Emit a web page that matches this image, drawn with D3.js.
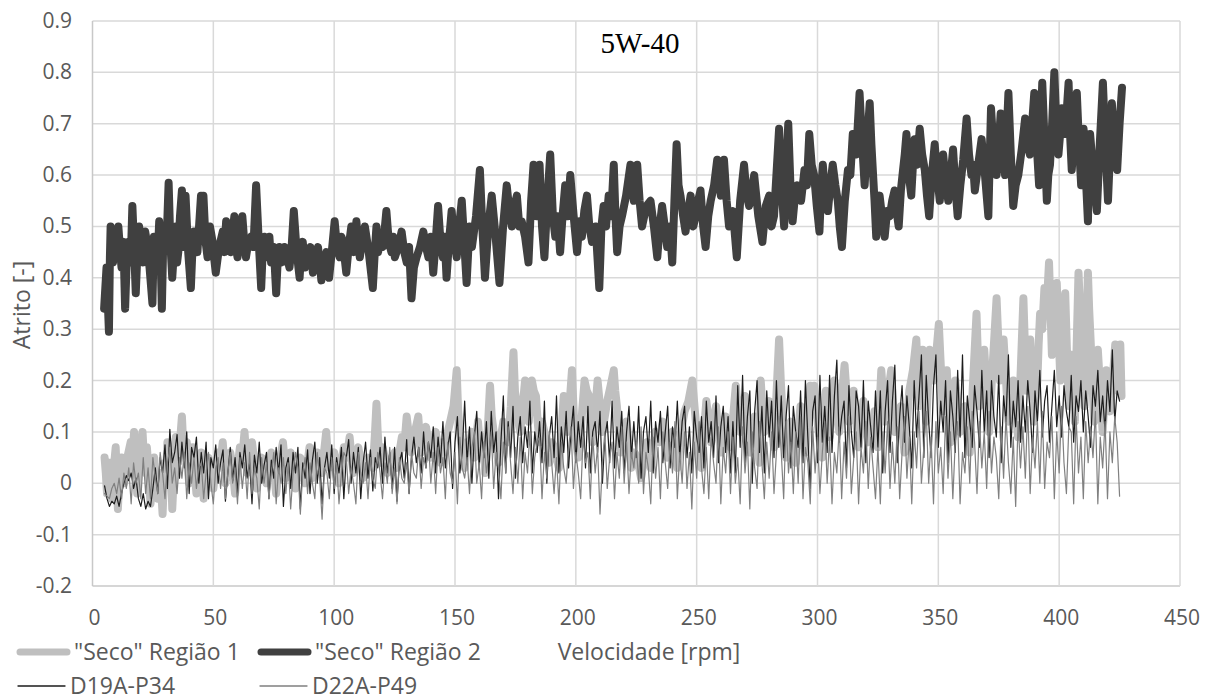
<!DOCTYPE html>
<html>
<head>
<meta charset="utf-8">
<script src="https://cdn.jsdelivr.net/npm/d3@7"></script>
<style>
  body { margin: 0; background: #fff; }
  svg { display: block; }
  text { font-family: "Open Sans", sans-serif; fill: #595959; }
</style>
</head>
<body>
<script>
// chart text
var title = "5W-40";
var xTitle = "Velocidade [rpm]";
var yTitle = "Atrito [-]";
var seriesNames = ['"Seco" Região 1', '"Seco" Região 2', "D19A-P34", "D22A-P49"];
var xTicks = [0, 50, 100, 150, 200, 250, 300, 350, 400, 450];
var yTicks = [-0.2, -0.1, 0, 0.1, 0.2, 0.3, 0.4, 0.5, 0.6, 0.7, 0.8, 0.9];

// "Seco" Região 1 : [rpm, atrito]
var regiao1 = [[5,0.05],[5.5,0.02],[6,-0.02],[6.5,0.03],[7,0.04],[7.5,0.0],[8,-0.03],[8.8,0.03],[9.6,0.07],[10,0.02],
  [10.5,-0.05],[11.2,0.02],[12,0.05],[12.5,0.03],[13,0.0],[14.4,0.05],[15.8,0.08],[16.2,0.05],[16.5,0.02],[16.8,0.07],
  [17.2,0.1],[17.8,0.04],[18.5,-0.02],[19,0.03],[19.5,0.06],[20.1,0.08],[20.7,0.1],[21.3,0.05],[22,0.02],[22.5,0.07],
  [23,0.04],[23.5,0.0],[24,-0.04],[24.8,0.02],[25.5,0.05],[26.2,0.01],[27,-0.03],[28,0.02],[29,-0.06],[29.5,0.0],
  [30,0.04],[30.5,0.02],[31,0.08],[31.5,0.04],[32,0.0],[32.5,0.03],[33,-0.05],[33.8,0.03],[34.5,0.09],[35,0.06],
  [35.5,0.04],[36.2,0.08],[37,0.13],[37.5,0.08],[38,0.05],[38.5,0.07],[39,0.08],[39.5,0.03],[40,0.0],[40.8,0.04],
  [41.5,0.07],[42.2,0.03],[43,-0.02],[44,0.03],[45,0.06],[45.5,0.02],[46,-0.03],[47,0.02],[48,0.05],[49,0.03],
  [50,-0.01],[51,0.03],[52,0.06],[53,0.04],[53.9,0.08],[54.5,0.04],[55,0.0],[56,0.04],[57,0.06],[58,0.03],
  [59,-0.02],[60,0.03],[61,0.07],[62,0.05],[62.9,0.1],[63.5,0.06],[64,0.02],[65,0.05],[66,0.08],[67,0.04],
  [68,-0.01],[69,0.03],[70,0.05],[71,0.02],[72,0.0],[73,0.04],[74,0.06],[75,0.03],[76,-0.02],[77.4,0.04],
  [78.8,0.08],[79.4,0.05],[80,0.01],[81,0.04],[82,0.06],[83,0.03],[84,-0.01],[85,0.03],[86,0.05],[87,0.02],
  [88,0.0],[89,0.04],[89.8,0.07],[90.4,0.04],[91,0.01],[92,0.04],[93,0.06],[94,0.04],[95,0.02],[95.8,0.06],
  [96.7,0.1],[97.3,0.06],[98,0.03],[99,0.05],[100,0.06],[101,0.03],[102,0.0],[103,0.04],[104,0.07],[105.2,0.05],
  [106.4,0.09],[107.2,0.05],[108,0.02],[109,0.05],[110,0.07],[111,0.04],[112,0.01],[113,0.04],[114,0.05],[115,0.04],
  [116,0.03],[116.8,0.09],[117.5,0.155],[118,0.1],[118.5,0.06],[119.2,0.04],[120,0.07],[121,0.05],[122,0.02],[123,0.04],
  [124,0.05],[125,0.06],[126,0.03],[127,0.06],[128,0.09],[129,0.07],[130,0.13],[131,0.09],[132,0.06],[133.4,0.1],
  [134.8,0.13],[135.4,0.09],[136,0.06],[137,0.09],[138,0.11],[139,0.08],[140,0.05],[141,0.08],[142,0.1],[143,0.07],
  [144,0.04],[145,0.08],[146,0.06],[147,0.1],[148,0.12],[149.4,0.15],[150.7,0.22],[151.3,0.14],[152,0.1],[153,0.06],
  [154,0.03],[155,0.08],[156,0.07],[157,0.1],[158,0.05],[158.8,0.09],[159.5,0.12],[160.2,0.08],[161,0.06],[161.8,0.09],
  [162.5,0.02],[163.5,0.1],[164.5,0.19],[165.2,0.13],[166,0.1],[167,0.07],[168,0.04],[169,0.09],[170,0.12],[171,0.1],
  [172,0.08],[173.1,0.15],[174.2,0.255],[174.8,0.18],[175.5,0.15],[176.2,0.12],[177,0.1],[178,0.15],[179,0.2],[179.8,0.16],
  [180.5,0.12],[181.2,0.16],[181.8,0.2],[182.6,0.18],[183.5,0.17],[184.2,0.12],[185,0.08],[186,0.12],[187,0.1],[188,0.07],
  [189,0.04],[190,0.08],[191,0.07],[192,0.05],[193,0.03],[194,0.1],[195,0.17],[195.8,0.13],[196.5,0.1],[197.5,0.16],
  [198.4,0.22],[199,0.15],[199.5,0.1],[200.2,0.08],[201,0.05],[202.3,0.12],[203.6,0.2],[204.5,0.18],[205.5,0.17],[206.2,0.12],
  [207,0.08],[208,0.14],[209,0.2],[210,0.15],[211,0.1],[212,0.13],[213,0.16],[214.4,0.19],[215.7,0.22],[216.3,0.18],
  [217,0.15],[217.8,0.1],[218.5,0.06],[219.8,0.09],[221,0.12],[222,0.07],[223,0.03],[224.2,0.06],[225.5,0.05],[226.2,0.03],
  [227,0.01],[228.3,0.05],[229.5,0.08],[230.2,0.05],[231,0.03],[232,0.07],[233,0.1],[234.5,0.08],[236,0.12],[237,0.08],
  [238,0.05],[239,0.08],[240,0.1],[241,0.06],[242,0.03],[243.5,0.1],[245,0.14],[246.6,0.16],[248.2,0.2],[249.1,0.15],
  [250,0.1],[251,0.06],[252,0.03],[253,0.1],[254,0.16],[255,0.12],[256,0.08],[257,0.12],[258,0.15],[259,0.1],
  [260,0.06],[261,0.1],[262,0.13],[263,0.1],[264,0.07],[265.1,0.13],[266.2,0.19],[267.1,0.14],[268,0.1],[269,0.14],
  [270,0.17],[271,0.11],[272,0.06],[273,0.1],[274,0.13],[275,0.08],[276,0.04],[276.5,0.2],[277.2,0.15],[278,0.1],
  [279,0.13],[280,0.16],[281,0.11],[282,0.07],[283,0.17],[284.1,0.28],[284.8,0.2],[285.5,0.14],[286.2,0.09],[287,0.05],
  [288,0.09],[289,0.12],[290,0.08],[291,0.04],[292,0.1],[293,0.15],[294,0.1],[295,0.06],[296,0.13],[297,0.19],
  [297.8,0.16],[298.7,0.19],[299.3,0.15],[300,0.12],[301,0.08],[302,0.05],[302.8,0.12],[303.5,0.18],[304.2,0.13],[305,0.09],
  [306,0.15],[307,0.2],[308,0.15],[309,0.1],[310.1,0.17],[311.2,0.23],[312.1,0.17],[313,0.12],[314,0.15],[315,0.18],
  [316,0.12],[317,0.07],[318,0.12],[319,0.16],[320,0.12],[321,0.08],[322.3,0.11],[323.6,0.14],[324.3,0.1],[325,0.07],
  [325.7,0.15],[326.4,0.22],[327.2,0.17],[328,0.12],[329.3,0.18],[330.5,0.22],[331.2,0.16],[332,0.1],[333.3,0.13],[334.5,0.15],
  [335.2,0.1],[336,0.06],[337,0.12],[338,0.18],[339.5,0.22],[340.9,0.28],[341.5,0.21],[342,0.15],[342.8,0.2],[343.5,0.26],
  [344.2,0.19],[345,0.12],[345.7,0.19],[346.4,0.26],[347.2,0.23],[348,0.2],[349.1,0.25],[350.2,0.31],[351.1,0.22],[352,0.14],
  [352.8,0.18],[353.5,0.22],[354.2,0.15],[355,0.08],[356,0.14],[357,0.2],[358,0.15],[359,0.1],[360,0.13],[361,0.15],
  [362,0.1],[363,0.06],[364.4,0.2],[365.8,0.33],[366.4,0.24],[367,0.15],[368,0.2],[369,0.26],[370,0.18],[371,0.1],
  [372.5,0.23],[374.1,0.36],[374.8,0.28],[375.5,0.2],[376.2,0.24],[377,0.28],[378,0.2],[379,0.12],[380,0.16],[381,0.2],
  [382,0.14],[383,0.09],[384.1,0.22],[385.2,0.36],[385.8,0.27],[386.5,0.18],[387.2,0.23],[388,0.28],[388.8,0.2],[389.5,0.12],
  [390.2,0.16],[391,0.2],[391.5,0.27],[392.1,0.33],[393,0.3],[393.9,0.38],[394.8,0.34],[395.8,0.43],[396.4,0.34],[397,0.25],
  [398,0.32],[399,0.39],[399.7,0.3],[400.5,0.2],[401.5,0.28],[402.5,0.37],[403.2,0.26],[404,0.15],[404.5,0.2],[405,0.25],
  [405.7,0.18],[406.5,0.12],[407.2,0.26],[408,0.41],[408.7,0.33],[409.5,0.25],[410,0.2],[410.5,0.15],[411.2,0.28],[411.9,0.41],
  [412.4,0.34],[413,0.28],[413.7,0.2],[414.5,0.12],[415.2,0.19],[416,0.26],[417,0.18],[418,0.1],[418.7,0.16],[419.5,0.22],
  [420.2,0.18],[421,0.14],[422.1,0.2],[423.2,0.27],[423.8,0.22],[424.5,0.18],[424.9,0.22],[425.3,0.27],[425.8,0.17]];

// "Seco" Região 2 : [rpm, atrito]
var regiao2 = [[4.8,0.34],[5.8,0.42],[6.8,0.295],[7.2,0.44],[7.5,0.5],[8,0.46],[8.5,0.43],[9,0.49],[9.5,0.48],[10.1,0.44],
  [10.7,0.5],[11.3,0.46],[12,0.42],[12.8,0.47],[13.5,0.34],[14.2,0.44],[15,0.47],[15.8,0.43],[16.5,0.54],[17.2,0.46],
  [17.9,0.37],[18.6,0.45],[19.3,0.5],[20.2,0.45],[21,0.43],[21.8,0.49],[22.5,0.47],[23.6,0.42],[24.8,0.35],[25.4,0.48],
  [26,0.45],[26.8,0.42],[27.6,0.51],[28.2,0.44],[28.7,0.34],[29.4,0.5],[30,0.46],[30.8,0.49],[31.5,0.585],[32.2,0.47],
  [33,0.4],[33.8,0.46],[34.5,0.5],[35,0.43],[35.5,0.45],[36.2,0.52],[37,0.57],[37.8,0.46],[38.5,0.56],[39.6,0.45],
  [40.7,0.38],[41.4,0.46],[42,0.49],[43.4,0.45],[44.9,0.56],[45.4,0.48],[45.9,0.56],[46.8,0.47],[47.6,0.44],[48.6,0.5],
  [49.7,0.47],[50.3,0.44],[51,0.41],[52.4,0.46],[53.9,0.49],[54.6,0.45],[55.3,0.51],[56.3,0.47],[57.3,0.45],[58,0.49],
  [58.7,0.52],[59.4,0.46],[60,0.44],[61,0.48],[62,0.52],[62.8,0.47],[63.5,0.44],[64.5,0.47],[65.6,0.48],[66.6,0.46],
  [67.7,0.58],[68.8,0.47],[69.8,0.38],[70.5,0.46],[71.2,0.48],[71.9,0.44],[72.5,0.46],[73.2,0.48],[73.9,0.43],[75,0.46],
  [76,0.37],[76.7,0.44],[77.4,0.46],[78.4,0.43],[79.5,0.46],[80.5,0.44],[81.5,0.42],[82.4,0.46],[83.3,0.53],[84.5,0.45],
  [85.7,0.4],[86.3,0.45],[87,0.47],[88,0.42],[89.1,0.44],[90.2,0.46],[91.2,0.41],[92.2,0.44],[93.3,0.46],[94,0.43],
  [94.7,0.395],[95.7,0.43],[96.8,0.45],[97.3,0.42],[97.9,0.4],[99,0.45],[100.2,0.51],[101.2,0.46],[102.3,0.44],[103,0.48],
  [103.7,0.47],[104.3,0.44],[105,0.41],[106,0.46],[107.1,0.5],[108.1,0.45],[109.2,0.51],[109.9,0.47],[110.6,0.44],[111.6,0.47],
  [112.7,0.5],[114.3,0.45],[116,0.38],[116.8,0.45],[117.5,0.5],[118.2,0.45],[118.9,0.48],[120.2,0.46],[121.6,0.53],[122.6,0.47],
  [123.7,0.45],[124.4,0.48],[125.1,0.44],[126.5,0.46],[127.9,0.49],[129,0.45],[130,0.43],[131,0.46],[132,0.36],[133,0.42],
  [134.1,0.44],[135.5,0.46],[136.9,0.49],[138,0.46],[139,0.44],[140,0.48],[141,0.41],[142,0.47],[143,0.54],[144,0.47],
  [145,0.44],[145.7,0.48],[146.5,0.4],[147.5,0.47],[148.6,0.53],[149.6,0.48],[150.7,0.44],[151.7,0.5],[152.8,0.55],[153.8,0.47],
  [154.8,0.39],[156,0.5],[157,0.46],[158.7,0.52],[160.3,0.61],[161.3,0.5],[162.4,0.4],[163.8,0.5],[165.2,0.56],[166.8,0.48],
  [168.4,0.39],[169.9,0.5],[171.4,0.58],[172.5,0.53],[173.5,0.5],[174.5,0.54],[175.6,0.56],[176.6,0.5],[177.6,0.51],[179,0.48],
  [180.4,0.43],[181.5,0.55],[182.5,0.62],[183.8,0.52],[185,0.62],[186,0.5],[187,0.44],[188.2,0.55],[189.4,0.64],[190.5,0.52],
  [191.5,0.48],[192.5,0.52],[193.5,0.45],[194.5,0.52],[195.6,0.58],[196.6,0.52],[197.7,0.6],[199.1,0.52],[200.5,0.45],[201.5,0.51],
  [202.5,0.48],[203.5,0.53],[204.6,0.56],[205.6,0.5],[206.7,0.47],[208.2,0.5],[209.7,0.38],[210.6,0.5],[211.5,0.54],[212.5,0.5],
  [213.6,0.56],[214.6,0.52],[215.7,0.62],[216.4,0.52],[217.1,0.45],[218.1,0.5],[219.1,0.52],[220.8,0.56],[222.6,0.62],[224,0.55],
  [225.4,0.62],[226.4,0.55],[227.4,0.5],[229.2,0.54],[230.9,0.55],[232.3,0.5],[233.7,0.44],[234.7,0.5],[235.7,0.54],[236.8,0.5],
  [237.8,0.46],[238.9,0.5],[239.9,0.43],[240.8,0.55],[241.7,0.66],[242.5,0.58],[243.3,0.56],[244.4,0.52],[245.4,0.49],[246.5,0.53],
  [247.5,0.56],[248.6,0.5],[249.6,0.52],[250.6,0.55],[251.6,0.57],[252.7,0.5],[253.7,0.46],[254.8,0.52],[255.8,0.55],[257.2,0.58],
  [258.5,0.63],[260,0.56],[261.3,0.63],[262.4,0.55],[263.4,0.5],[265,0.53],[266.6,0.44],[268,0.55],[269.6,0.62],[270.7,0.56],
  [271.7,0.54],[272.8,0.57],[273.8,0.6],[275.5,0.52],[277.2,0.47],[278.6,0.54],[280,0.56],[281,0.5],[282,0.52],[283,0.6],
  [284.1,0.69],[285.2,0.57],[286.2,0.5],[287,0.6],[287.9,0.7],[288.8,0.58],[289.7,0.51],[290.7,0.56],[291.7,0.58],[293.2,0.55],
  [294.6,0.61],[295.6,0.58],[296.6,0.68],[297.6,0.62],[298.6,0.6],[299.7,0.54],[300.8,0.49],[301.5,0.57],[302.2,0.62],[303.2,0.56],
  [304.3,0.53],[305.3,0.58],[306.3,0.62],[307.4,0.58],[308.4,0.55],[309.2,0.5],[310.1,0.46],[311.3,0.55],[312.6,0.61],[313.6,0.6],
  [314.6,0.68],[316,0.64],[317.4,0.76],[318.5,0.66],[319.5,0.58],[320.5,0.66],[321.6,0.74],[322.3,0.66],[323,0.6],[323.6,0.55],
  [324.3,0.48],[325,0.52],[325.7,0.56],[326.7,0.52],[327.8,0.48],[328.8,0.53],[329.9,0.52],[330.9,0.55],[331.9,0.57],[332.7,0.53],
  [333.6,0.5],[334.5,0.57],[335.4,0.61],[336.1,0.64],[336.8,0.68],[337.8,0.6],[338.8,0.56],[339.5,0.62],[340.2,0.67],[341.2,0.62],
  [342.3,0.69],[343.3,0.64],[344.4,0.61],[345.3,0.56],[346.2,0.52],[347.3,0.6],[348.5,0.66],[349.5,0.6],[350.6,0.55],[351.3,0.6],
  [352,0.64],[353,0.59],[354.1,0.55],[355.1,0.6],[356.1,0.65],[357,0.58],[358,0.52],[359.1,0.58],[360.3,0.63],[361,0.67],
  [361.7,0.71],[362.7,0.64],[363.7,0.6],[364.4,0.62],[365.1,0.57],[366.5,0.62],[367.9,0.67],[369.3,0.6],[370.7,0.52],[371.2,0.62],
  [371.8,0.73],[373,0.64],[374.1,0.6],[375,0.66],[375.8,0.72],[376.7,0.65],[377.6,0.6],[378.3,0.68],[379,0.76],[380,0.64],
  [381,0.54],[382,0.58],[383.1,0.6],[384.5,0.65],[385.9,0.71],[386.9,0.66],[387.9,0.64],[388.8,0.7],[389.7,0.76],[390.7,0.66],
  [391.7,0.58],[392.3,0.68],[393,0.78],[394,0.66],[394.9,0.55],[395.5,0.6],[396.2,0.62],[397.1,0.7],[398,0.8],[398.8,0.7],
  [399.7,0.64],[400.4,0.68],[401.1,0.73],[402.5,0.68],[403.9,0.78],[404.5,0.68],[405.2,0.61],[406.2,0.68],[407.3,0.76],[408.2,0.66],
  [409.1,0.58],[409.6,0.63],[410.1,0.69],[411,0.6],[411.9,0.51],[412.3,0.6],[412.8,0.68],[414.2,0.6],[415.6,0.53],[416.8,0.66],
  [418.1,0.78],[419.1,0.66],[420.2,0.55],[421,0.64],[421.8,0.74],[422.9,0.66],[424,0.61],[425,0.7],[426,0.77]];

// thin series sampled every 1 rpm from 5 rpm
var thinRpmStart = 5, thinRpmStep = 1;
var d19a = [
  -0.005,-0.03,-0.045,-0.035,-0.04,-0.025,-0.045,-0.02,0.0,0.015,0.005,0.02,-0.01,0.01,-0.03,-0.045,-0.02,-0.05,-0.035,-0.045,
  -0.01,0.03,-0.02,0.05,0.02,0.075,-0.01,0.105,0.04,0.06,0.095,0.01,0.08,0.03,0.1,-0.02,0.07,0.05,0.09,0.0,
  0.06,0.02,0.08,-0.03,0.05,0.03,0.075,0.0,0.04,0.065,-0.035,0.02,0.07,0.005,0.05,-0.02,0.06,0.03,0.075,0.01,
  0.04,-0.04,0.055,0.02,0.08,0.0,0.035,0.06,-0.03,0.045,0.01,0.07,0.02,0.075,-0.045,0.03,0.05,-0.01,0.06,0.02,
  0.07,-0.05,0.04,0.01,0.065,-0.02,0.045,0.08,0.0,0.05,-0.04,0.03,0.06,0.01,0.075,-0.02,0.05,0.02,0.07,-0.03,
  0.05,0.085,0.0,0.06,0.02,0.07,-0.03,0.04,0.08,0.01,0.065,-0.015,0.05,0.03,0.07,0.0,0.09,0.02,0.06,-0.01,
  0.07,-0.035,0.04,0.06,0.01,0.085,-0.02,0.05,0.09,0.04,0.07,0.02,0.1,0.03,0.08,0.05,0.11,0.02,0.09,0.04,
  0.12,0.03,0.07,0.1,-0.01,0.08,0.13,0.02,0.06,0.16,0.04,0.11,0.0,0.09,0.14,0.03,0.1,0.05,0.12,0.01,
  0.14,0.06,0.1,-0.03,0.08,0.17,0.02,0.12,0.05,0.15,0.01,0.09,0.13,0.04,0.11,0.07,0.16,0.02,0.1,0.06,
  0.12,0.04,0.16,0.0,0.09,0.13,0.05,0.17,0.02,0.11,0.06,0.14,0.03,0.1,0.15,0.04,0.12,0.07,0.13,0.03,
  0.15,0.02,0.1,0.12,0.06,0.14,0.0,0.09,0.12,0.04,0.16,0.03,0.11,0.07,0.14,0.02,0.1,0.15,0.05,0.12,
  0.05,0.15,0.01,0.1,0.13,0.06,0.16,0.02,0.12,0.08,0.14,0.04,0.1,0.15,0.03,0.11,0.07,0.16,0.05,0.12,
  0.15,0.05,0.11,0.02,0.14,0.09,0.06,0.13,0.03,0.16,0.08,0.12,0.05,0.17,0.04,0.11,0.15,0.06,0.13,0.02,
  0.12,0.02,0.19,0.07,0.21,0.04,0.13,0.18,0.0,0.14,0.2,0.06,0.15,0.02,0.18,0.09,0.16,0.05,0.2,0.07,
  0.17,0.05,0.13,0.19,0.03,0.15,0.1,0.07,0.18,0.04,0.2,0.09,-0.01,0.14,0.17,0.04,0.21,0.08,0.15,0.06,
  0.21,0.06,0.17,0.24,0.08,0.13,0.16,0.03,0.19,0.1,0.05,0.18,0.15,0.07,0.2,0.04,0.16,0.11,0.06,0.18,
  0.07,0.18,0.02,0.14,0.2,0.06,0.16,0.23,0.04,0.13,0.19,0.08,0.17,0.11,0.03,0.2,0.09,0.17,0.25,0.05,
  0.21,0.12,0.05,0.19,0.25,0.07,0.16,0.1,0.2,0.04,0.18,0.13,0.06,0.22,0.09,0.25,0.05,0.17,0.12,0.07,
  0.19,0.14,0.07,0.22,0.1,0.18,0.05,0.2,0.13,0.09,0.21,0.04,0.17,0.12,0.25,0.07,0.16,0.11,0.2,0.08,
  0.17,0.1,0.2,0.14,0.06,0.18,0.12,0.22,0.09,0.16,0.19,0.08,0.15,0.22,0.11,0.17,0.09,0.19,0.14,0.11,
  0.21,0.08,0.17,0.14,0.2,0.1,0.18,0.13,0.07,0.19,0.15,0.22,0.12,0.17,0.1,0.2,0.14,0.26,0.12,0.18,
  0.16];
var d22a = [
  -0.02,-0.025,-0.03,-0.01,0.0,-0.02,0.01,-0.03,0.02,-0.01,0.03,-0.04,0.04,0.0,0.02,-0.03,0.05,-0.02,0.03,-0.03,
  0.05,0.01,-0.02,0.06,0.02,-0.03,0.04,0.07,0.0,0.03,-0.02,0.05,0.01,0.06,-0.03,0.04,0.0,0.05,-0.01,0.03,
  0.04,-0.03,0.02,0.06,0.0,-0.04,0.03,0.05,-0.01,0.04,-0.03,0.02,0.06,0.0,0.03,-0.04,0.05,-0.01,0.04,-0.03,
  0.06,-0.02,0.03,0.01,-0.05,0.05,0.0,0.04,-0.03,0.02,0.06,-0.04,0.03,0.0,0.05,-0.02,0.04,-0.05,0.02,0.06,
  0.03,-0.06,0.02,0.05,-0.02,0.04,0.0,-0.03,0.06,0.01,-0.07,0.03,0.02,-0.03,0.05,-0.01,0.04,-0.04,0.02,0.06,
  0.05,-0.02,0.03,0.0,-0.04,0.06,0.02,0.0,0.04,-0.03,0.05,0.01,-0.01,0.06,0.02,-0.03,0.04,0.0,0.07,-0.02,
  0.03,-0.04,0.05,0.01,0.0,0.04,-0.02,0.06,0.02,0.01,0.07,-0.01,0.05,0.03,0.08,0.0,0.06,-0.02,0.07,0.02,
  0.05,-0.03,0.08,0.02,0.0,0.06,-0.04,0.09,0.03,0.01,0.05,-0.02,0.07,0.1,0.0,0.04,-0.03,0.08,0.02,0.06,
  0.1,-0.01,0.06,0.03,-0.03,0.08,0.02,0.11,0.04,-0.02,0.07,0.0,0.09,-0.03,0.06,0.02,0.1,-0.02,0.05,0.08,
  0.09,-0.03,0.06,0.01,0.1,0.04,-0.02,0.05,-0.04,0.08,0.03,0.0,0.07,0.11,-0.01,0.06,0.02,-0.03,0.09,0.04,
  0.06,-0.03,0.09,0.02,0.07,-0.06,0.04,0.1,-0.01,0.05,0.08,-0.03,0.06,0.01,0.11,0.0,0.08,-0.02,0.06,0.03,
  0.08,0.0,0.11,-0.02,0.06,0.03,-0.04,0.09,0.01,0.07,-0.03,0.1,0.04,-0.01,0.08,0.02,0.12,-0.03,0.06,0.0,
  0.1,-0.01,0.06,-0.05,0.08,0.01,0.12,0.03,-0.02,0.07,-0.03,0.09,0.04,0.0,0.11,-0.04,0.07,0.02,0.1,-0.02,
  0.09,0.0,0.05,-0.04,0.11,0.02,0.08,-0.05,0.1,0.03,-0.01,0.12,0.04,-0.03,0.08,0.01,0.1,-0.02,0.06,0.13,
  0.06,-0.03,0.12,0.02,0.08,-0.02,0.1,0.0,0.13,-0.03,0.07,0.04,-0.04,0.11,0.02,0.09,-0.02,0.06,0.12,0.0,
  0.09,-0.04,0.06,0.02,0.11,-0.03,0.08,0.01,0.13,-0.02,0.05,0.1,-0.04,0.07,0.02,0.12,-0.01,0.09,0.03,-0.03,
  0.07,-0.04,0.1,0.02,0.12,-0.01,0.08,0.0,0.11,-0.03,0.06,0.13,0.01,0.09,-0.04,0.1,0.03,0.14,0.0,0.07,
  0.14,0.0,0.09,-0.04,0.12,0.02,0.07,-0.02,0.13,0.01,0.1,-0.03,0.08,0.12,-0.04,0.06,0.02,0.11,0.0,0.14,
  0.08,-0.02,0.12,0.03,0.1,-0.01,0.14,0.02,0.09,0.05,-0.03,0.11,0.01,0.13,0.04,-0.02,0.09,-0.045,0.12,0.03,
  0.11,0.01,0.15,-0.02,0.09,0.03,0.12,0.0,0.14,-0.01,0.08,0.05,0.13,-0.03,0.1,0.02,0.15,0.04,-0.02,0.11,
  0.1,-0.04,0.13,0.02,0.09,-0.03,0.12,0.04,0.11,0.05,0.14,-0.04,0.09,0.03,0.12,-0.03,0.1,0.04,0.13,0.08,
  -0.025];

var width = 1213, height = 700;

var svg = d3.select("body").append("svg")
  .attr("width", width)
  .attr("height", height);

var x = d3.scaleLinear().domain([0, 450]).range([92.5, 1180]);
var y = d3.scaleLinear().domain([-0.2, 0.9]).range([586, 21]);

// grid
svg.append("g").selectAll("line").data(yTicks).join("line")
  .attr("x1", x(0)).attr("x2", x(450))
  .attr("y1", d => y(d)).attr("y2", d => y(d))
  .attr("stroke", d => d === -0.2 ? "#c8c8c8" : "#d9d9d9")
  .attr("stroke-width", 1.5);
svg.append("g").selectAll("line").data(xTicks).join("line")
  .attr("x1", d => x(d)).attr("x2", d => x(d))
  .attr("y1", y(0.9)).attr("y2", y(-0.2))
  .attr("stroke", d => d === 0 ? "#c8c8c8" : "#d9d9d9")
  .attr("stroke-width", 1.5);

// tick labels
svg.append("g").selectAll("text").data(yTicks).join("text")
  .attr("x", 72).attr("y", d => y(d) + 7)
  .attr("text-anchor", "end")
  .style("font-size", "21px")
  .text(d => d3.format(".1f")(d).replace("0.0", "0").replace("−", "-"));
svg.append("g").selectAll("text").data(xTicks).join("text")
  .attr("x", d => x(d) + 2).attr("y", 625)
  .attr("text-anchor", "middle")
  .style("font-size", "21px")
  .text(d => d);

// series
var line = d3.line().x(d => x(d[0])).y(d => y(d[1]));
function thin(vals) {
  return vals.map((v, i) => [thinRpmStart + i * thinRpmStep, v]);
}
var series = [
  { data: regiao1, color: "#bfbfbf", w: 8 },
  { data: regiao2, color: "#404040", w: 8 },
  { data: thin(d19a), color: "#1c1c1c", w: 1.2 },
  { data: thin(d22a), color: "#808080", w: 1.2 }
];
svg.append("g").selectAll("path").data(series).join("path")
  .attr("d", d => line(d.data))
  .attr("fill", "none")
  .attr("stroke", d => d.color)
  .attr("stroke-width", d => d.w)
  .attr("stroke-linejoin", "round")
  .attr("stroke-linecap", "round");

// title
svg.append("text")
  .attr("x", 640).attr("y", 53)
  .attr("text-anchor", "middle")
  .style("font-family", "'Liberation Serif', 'Times New Roman', serif")
  .style("font-size", "29px")
  .style("fill", "#000")
  .text(title);

// axis titles
svg.append("text")
  .attr("x", 649).attr("y", 660)
  .attr("text-anchor", "middle")
  .style("font-size", "23px")
  .text(xTitle);
svg.append("text")
  .attr("transform", "translate(30,305) rotate(-90)")
  .attr("text-anchor", "middle")
  .style("font-size", "23px")
  .text(yTitle);

// legend
var legendItems = [
  { name: seriesNames[0], color: "#bfbfbf", w: 7, lx: 17, ly: 652 },
  { name: seriesNames[1], color: "#404040", w: 7, lx: 258, ly: 652 },
  { name: seriesNames[2], color: "#1c1c1c", w: 1.3, lx: 18, ly: 686 },
  { name: seriesNames[3], color: "#808080", w: 1.3, lx: 260, ly: 686 }
];
var lg = svg.append("g").selectAll("g").data(legendItems).join("g")
  .attr("transform", d => "translate(" + d.lx + "," + d.ly + ")");
lg.append("line")
  .attr("x1", d => d.w > 2 ? 3 : 0).attr("x2", d => d.w > 2 ? 50 : 47)
  .attr("stroke", d => d.color)
  .attr("stroke-width", d => d.w)
  .attr("stroke-linecap", "round");
lg.append("text")
  .attr("x", d => d.w > 2 ? 57 : 52).attr("y", 8)
  .style("font-size", "23px")
  .text(d => d.name);
</script>
</body>
</html>
